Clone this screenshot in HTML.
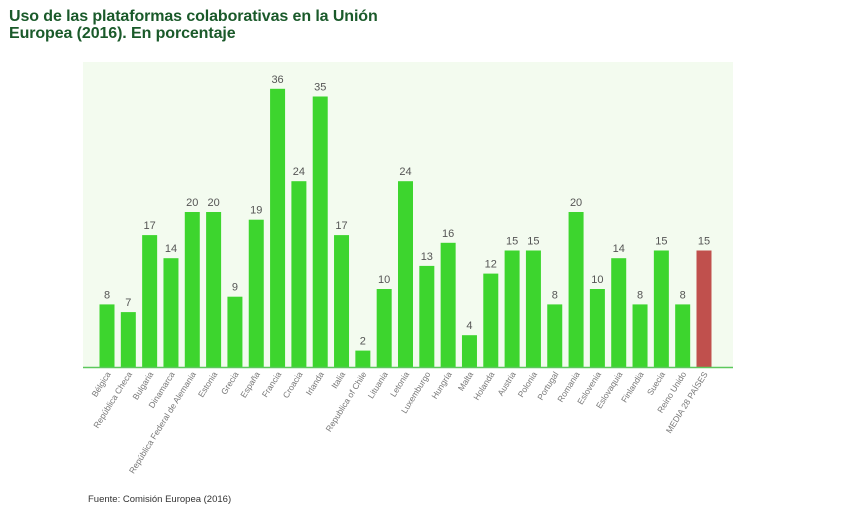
<!DOCTYPE html>
<html><head><meta charset="utf-8"><style>
body{margin:0;background:#fff;width:857px;height:515px;overflow:hidden;font-family:"Liberation Sans",sans-serif}
.t{position:absolute;left:9px;top:8px;font-size:16px;font-weight:bold;color:#1a5a2a;line-height:17px;letter-spacing:-0.1px}
.src{position:absolute;left:88px;top:494px;font-size:9.5px;color:#333}
</style></head><body>
<div class="t">Uso de las plataformas colaborativas en la Unión<br>Europea (2016). En porcentaje</div>
<svg id="c" width="857" height="515" style="position:absolute;left:0;top:0"></svg>
<div class="src">Fuente: Comisión Europea (2016)</div>
<script>
const categories=["Bélgica","República Checa","Bulgaria","Dinamarca","República Federal de Alemania","Estonia","Grecia","España","Francia","Croacia","Irlanda","Italia","Republica of Chile","Lituania","Letonia","Luxemburgo","Hungría","Malta","Holanda","Austria","Polonia","Portugal","Romania","Eslovenia","Eslovaquia","Finlandia","Suecia","Reino Unido","MEDIA 28 PAÍSES"];
const values=[8,7,17,14,20,20,9,19,36,24,35,17,2,10,24,13,16,4,12,15,15,8,20,10,14,8,15,8,15];
const NS="http://www.w3.org/2000/svg",svg=document.getElementById('c');
const x0=107,step=(704-107)/28,base=366,k=7.7,bw=15;
const xs=i=>x0+i*step, ys=v=>base-v*k;
function mk(t,a){const e=document.createElementNS(NS,t);for(const n in a)e.setAttribute(n,a[n]);svg.appendChild(e);return e;}
const bg=mk('rect',{x:83,y:62,width:650,height:305,fill:'#f3fbef'});


values.forEach((v,i)=>{
 const last=i===values.length-1;
 const r=mk('rect',{x:xs(i)-bw/2,y:ys(v),width:bw,height:base-ys(v)+1,fill:last?'#c0504d':'#3dd52e'});
 
 
 const t=mk('text',{x:xs(i),y:ys(v)-6,'text-anchor':'middle','font-size':11,fill:'#555','font-family':'Liberation Sans,sans-serif'});
 t.textContent=v;
 
 
 const l=mk('text',{transform:`translate(${xs(i)+4},374) rotate(-58)`,'text-anchor':'end','font-size':8.5,fill:'#777','font-family':'Liberation Sans,sans-serif'});
 l.textContent=categories[i];
 
 
});
const ax=mk('line',{x1:83,x2:733,y1:367.5,y2:367.5,stroke:'#5cc85c','stroke-width':1.5});


</script>
</body></html>
